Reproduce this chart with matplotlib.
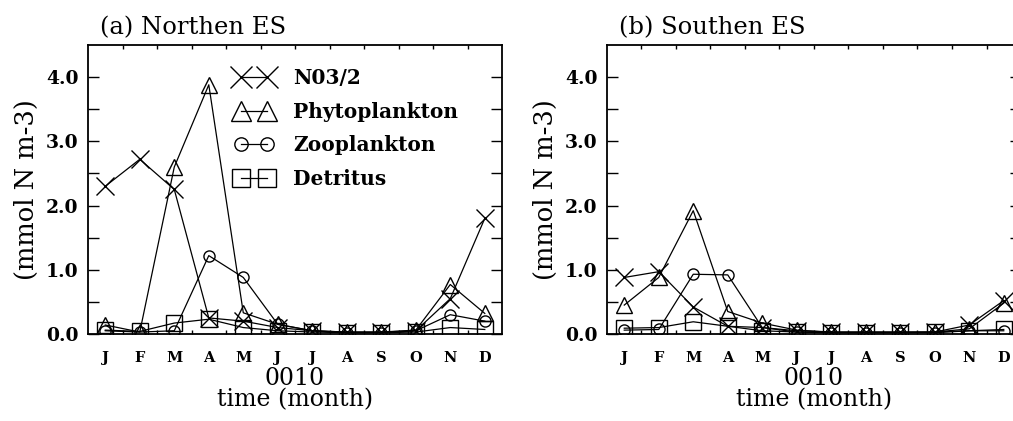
import matplotlib
matplotlib.use("Agg")
import matplotlib.pyplot as plt
import numpy as np

# Monthly mean concentrations (mmol N m-3), model year 0010
months = ["J", "F", "M", "A", "M", "J", "J", "A", "S", "O", "N", "D"]
series_names = ["N03/2", "Phytoplankton", "Zooplankton", "Detritus"]

north_no3 = [2.30, 2.72, 2.25, 0.25, 0.20, 0.10, 0.05, 0.03, 0.03, 0.05, 0.55, 1.80]
north_phy = [0.14, 0.03, 2.60, 3.88, 0.33, 0.15, 0.05, 0.03, 0.03, 0.06, 0.77, 0.32]
north_zoo = [0.05, 0.03, 0.05, 1.22, 0.88, 0.15, 0.05, 0.02, 0.02, 0.05, 0.30, 0.20]
north_det = [0.06, 0.04, 0.17, 0.23, 0.10, 0.05, 0.03, 0.02, 0.02, 0.03, 0.10, 0.07]

south_no3 = [0.88, 0.97, 0.42, 0.12, 0.10, 0.05, 0.03, 0.03, 0.03, 0.03, 0.14, 0.52]
south_phy = [0.45, 0.88, 1.92, 0.35, 0.17, 0.06, 0.03, 0.03, 0.03, 0.03, 0.08, 0.48]
south_zoo = [0.06, 0.07, 0.93, 0.92, 0.10, 0.03, 0.02, 0.02, 0.02, 0.02, 0.05, 0.05]
south_det = [0.09, 0.10, 0.19, 0.12, 0.05, 0.03, 0.02, 0.02, 0.02, 0.03, 0.05, 0.07]

panels = [
    ("(a) Northen ES", [north_no3, north_phy, north_zoo, north_det]),
    ("(b) Southen ES", [south_no3, south_phy, south_zoo, south_det]),
]

markers = [
    dict(marker="x", markersize=13, markeredgewidth=1.0),
    dict(marker="^", markersize=12, markeredgewidth=1.0),
    dict(marker="o", markersize=8, markeredgewidth=1.0),
    dict(marker="s", markersize=11, markeredgewidth=1.0),
]

serif = "DejaVu Serif"
fig = plt.figure(figsize=(10.13, 4.21), dpi=100)
fig.patch.set_facecolor("white")

positions = [[0.0869, 0.2067, 0.4087, 0.6865], [0.5992, 0.2067, 0.4087, 0.6865]]
x = np.arange(1, 13)

for (title, data), pos in zip(panels, positions):
    ax = fig.add_axes(pos)
    handles = []
    for vals, name, mk in zip(data, series_names, markers):
        h, = ax.plot(x, vals, color="black", linewidth=0.9, fillstyle="none",
                     markeredgecolor="black", label=name, **mk)
        handles.append(h)
    ax.set_xlim(0.5, 12.5)
    ax.set_ylim(0, 4.5)

    # month boundaries carry the tick marks; letters sit at month centres
    ax.set_xticks(np.arange(1.5, 12.5, 1.0))
    ax.set_xticklabels([])
    ax.set_xticks(x, minor=True)
    ax.set_xticklabels(months, minor=True, fontfamily=serif, fontweight="bold",
                       fontsize=10.5)
    ax.tick_params(axis="x", which="major", direction="in", length=3, width=1,
                   top=True, bottom=True)
    ax.tick_params(axis="x", which="minor", length=0, pad=12)

    ax.set_yticks([0, 1, 2, 3, 4])
    ax.set_yticklabels(["0.0", "1.0", "2.0", "3.0", "4.0"], fontfamily=serif,
                       fontweight="bold", fontsize=13.5)
    ax.set_yticks(np.arange(0.5, 4.5, 1.0), minor=True)
    ax.tick_params(axis="y", which="both", direction="in", length=8, width=1,
                   left=True, right=True, pad=7)

    for sp in ax.spines.values():
        sp.set_linewidth(1.3)

    ax.set_ylabel("(mmol N m-3)", fontfamily=serif, fontsize=18.5, labelpad=5)
    ax.set_xlabel("0010\ntime (month)", fontfamily=serif, fontsize=17,
                  linespacing=0.9, labelpad=2)
    ax.set_title(title, fontfamily=serif, fontsize=17.5, loc="left", pad=8,
                 x=0.03)

    if title.startswith("(a)"):
        ax.legend(handles=handles, loc="upper left", bbox_to_anchor=(0.355, 0.92),
                  frameon=False, numpoints=2, handlelength=1.9, markerscale=1.2,
                  handletextpad=1.0, labelspacing=0.68, borderpad=0,
                  borderaxespad=0,
                  prop=dict(family=serif, size=14.5, weight="bold"))

fig.savefig("out.png", dpi=100, facecolor="white")
